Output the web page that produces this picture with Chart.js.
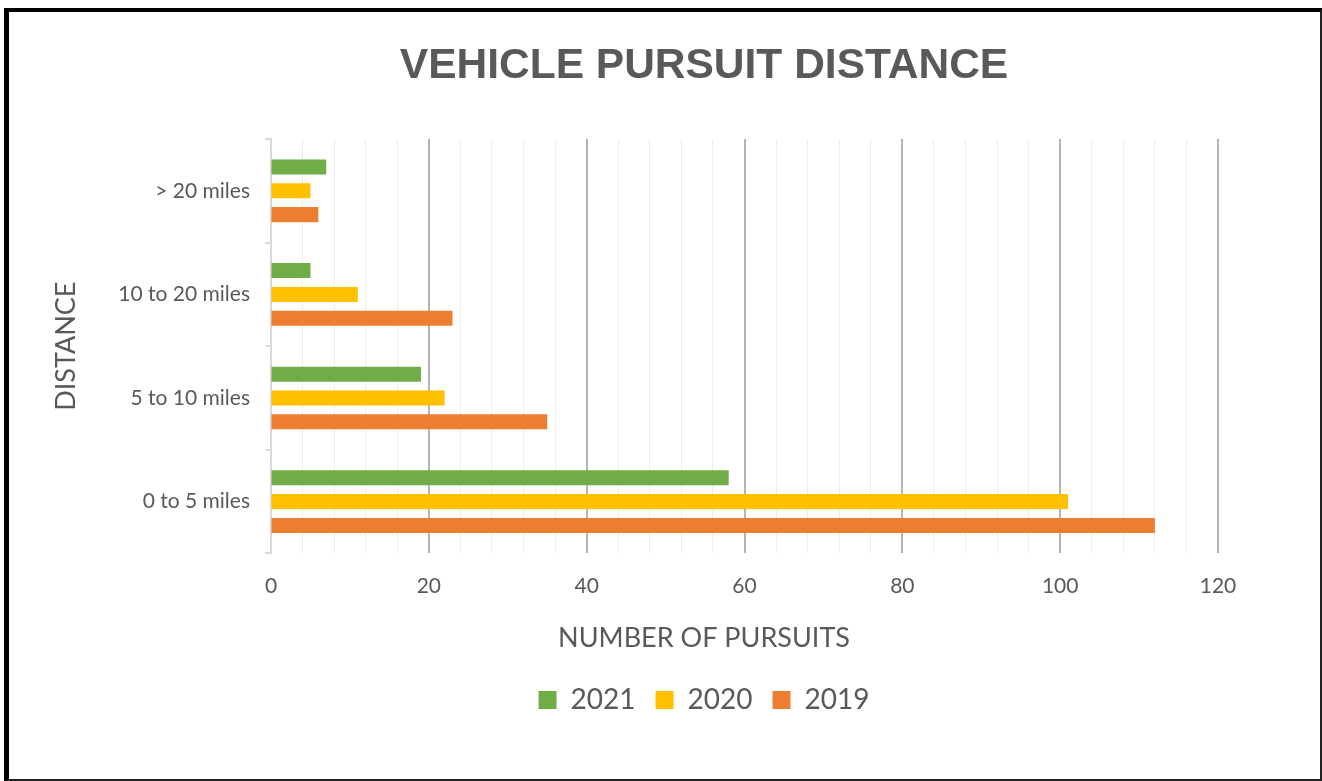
<!DOCTYPE html>
<html>
<head>
<meta charset="utf-8">
<script src="https://cdn.jsdelivr.net/npm/chart.js@4"></script>
<style>
  html, body { margin: 0; padding: 0; background: #fff; overflow: hidden; }
  #wrap { position: absolute; left: 0; top: 0; width: 1322px; height: 781px; overflow: hidden; }
  #pursuitChart { position: absolute; left: 0; top: 0; }
  #frame {
    position: absolute; left: 4px; top: 8px; width: 1311px; height: 767px;
    border-top: 4px solid #000; border-left: 5px solid #000;
    border-right: 2px solid #222; border-bottom: 2px solid #222;
    pointer-events: none;
  }
</style>
</head>
<body>
<div id="wrap">
  <!-- canvas is a bit wider than the window so title/legend centre where Excel put them -->
  <canvas id="pursuitChart" width="1408" height="781"></canvas>
  <div id="frame"></div>
</div>
<script>
// categories top to bottom, as in the picture
const categories = ["> 20 miles", "10 to 20 miles", "5 to 10 miles", "0 to 5 miles"];
const years = ["2021", "2020", "2019"];
const values2021 = [7, 5, 19, 58];
const values2020 = [5, 11, 22, 101];
const values2019 = [6, 23, 35, 112];
const xTicks = [0, 20, 40, 60, 80, 100, 120];

const TEXT = "#595959";
const FONT = "Lato, 'Open Sans', sans-serif";

const ctx = document.getElementById("pursuitChart");

new Chart(ctx, {
    type: "bar",
    data: {
        labels: categories,
        datasets: [
            { label: years[0], data: values2021, backgroundColor: "#70ad47" },
            { label: years[1], data: values2020, backgroundColor: "#ffc000" },
            { label: years[2], data: values2019, backgroundColor: "#ed7d31" }
        ]
    },
    options: {
        indexAxis: "y",
        responsive: false,
        animation: false,
        categoryPercentage: 0.69,
        barPercentage: 0.63,
        layout: { padding: { left: 50, right: 50, top: 0, bottom: 57 } },
        plugins: {
            title: {
                display: true,
                text: "VEHICLE PURSUIT DISTANCE",
                color: TEXT,
                font: { family: "'Liberation Sans', Arial, sans-serif", size: 42.5, weight: "bold" },
                padding: { top: 41, bottom: 47 }
            },
            // x axis title, done as a bottom subtitle so it centres like the legend
            subtitle: {
                display: true,
                position: "bottom",
                weight: 500,
                text: "NUMBER OF PURSUITS",
                color: TEXT,
                font: { family: FONT, size: 27, weight: "normal" },
                padding: { top: 3, bottom: 12 }
            },
            legend: {
                position: "bottom",
                labels: {
                    color: TEXT,
                    font: { family: FONT, size: 28 },
                    boxWidth: 18,
                    boxHeight: 18,
                    padding: 20
                }
            },
            tooltip: { enabled: false }
        },
        scales: {
            x: {
                min: 0,
                max: 120,
                afterFit: s => { s.paddingRight = 1408 - 1218; },
                ticks: {
                    stepSize: 4,
                    autoSkip: false,
                    maxRotation: 0,
                    minRotation: 0,
                    color: TEXT,
                    font: { family: FONT, size: 21 },
                    padding: 20,
                    callback: v => xTicks.includes(v) ? v : ""
                },
                grid: {
                    drawTicks: false,
                    color: c => c.tick.value === 0 ? "#d9d9d9" : (c.tick.value % 20 === 0 ? "#b4b4b4" : "#ededed"),
                    lineWidth: c => (c.tick.value % 20 === 0 && c.tick.value !== 0) ? 2 : 1
                },
                border: { display: false }
            },
            y: {
                afterFit: s => { s.width = 271 - 50; },
                ticks: {
                    color: TEXT,
                    font: { family: FONT, size: 21 },
                    padding: 15
                },
                grid: {
                    drawOnChartArea: false,
                    drawTicks: true,
                    tickLength: 6,
                    color: "#d9d9d9",
                    lineWidth: 2
                },
                border: { color: "#d9d9d9", width: 2 },
                title: {
                    display: true,
                    text: "DISTANCE",
                    color: TEXT,
                    font: { family: FONT, size: 27 },
                    padding: { top: 0, bottom: 0 }
                }
            }
        }
    }
});
</script>
</body>
</html>
